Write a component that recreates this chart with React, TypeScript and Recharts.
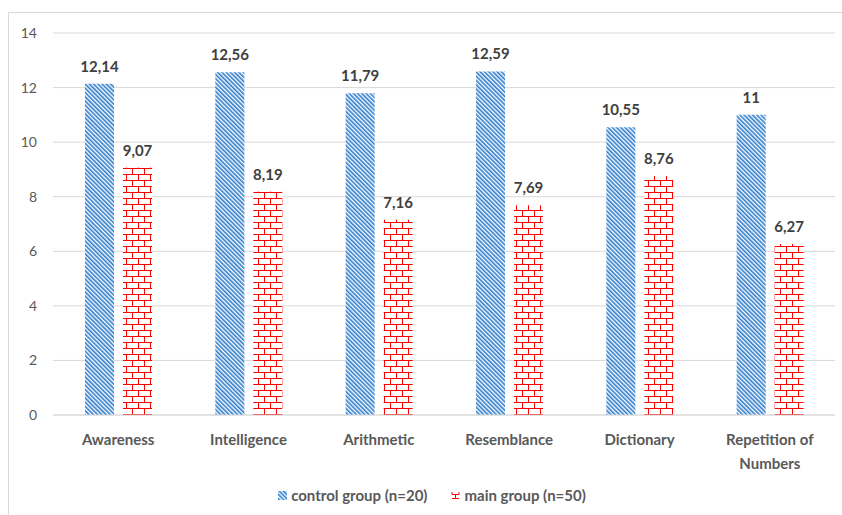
import { BarChart, Bar, XAxis, YAxis, CartesianGrid, Legend, LabelList, Text } from 'recharts';

const categories = ['Awareness', 'Intelligence', 'Arithmetic', 'Resemblance', 'Dictionary', 'Repetition of Numbers'];
const controlGroup = [12.14, 12.56, 11.79, 12.59, 10.55, 11];
const mainGroup = [9.07, 8.19, 7.16, 7.69, 8.76, 6.27];
const yTicks = [0, 2, 4, 6, 8, 10, 12, 14];

const seriesNames = ['control group (n=20)', 'main group (n=50)'];

const data = categories.map((name, i) => ({
  name,
  control: controlGroup[i],
  main: mainGroup[i],
}));

const FONT = 'Lato, "Open Sans", sans-serif';
const GRAY = '#595959';

// numbers use a decimal comma
const fmt = (v: any) => String(v).replace('.', ',');

const XTick = ({ x, y, payload }: any) => (
  <Text
    x={x}
    y={y}
    width={110}
    textAnchor="middle"
    verticalAnchor="start"
    lineHeight={24}
    fill={GRAY}
    fontSize={15}
    fontWeight={700}
    fontFamily={FONT}
    style={{ fontSize: 15, fontWeight: 700, fontFamily: FONT }}
  >
    {payload.value}
  </Text>
);

const LegendContent = () => (
  <div
    style={{
      display: 'flex',
      justifyContent: 'center',
      alignItems: 'center',
      gap: 24,
      fontFamily: FONT,
      fontSize: 15,
      fontWeight: 700,
      color: GRAY,
      paddingLeft: 22,
    }}
  >
    <span style={{ display: 'flex', alignItems: 'center' }}>
      <svg width={9} height={9} style={{ marginRight: 4 }}>
        <rect width={9} height={9} fill="url(#hatchBlue)" />
      </svg>
      {seriesNames[0]}
    </span>
    <span style={{ display: 'flex', alignItems: 'center' }}>
      <svg width={9} height={9} style={{ marginRight: 4 }}>
        <rect width={9} height={9} fill="url(#brickRedSmall)" />
      </svg>
      {seriesNames[1]}
    </span>
  </div>
);

export default function App() {
  return (
    <div style={{ position: 'absolute', left: 0, top: 0, width: 842, height: 515, overflow: 'hidden', background: '#fff' }}>
      <div
        style={{
          position: 'absolute',
          left: 8,
          top: 12,
          width: 900,
          height: 600,
          border: '1px solid #d9d9d9',
        }}
      />
      <div style={{ position: 'absolute', left: 0, top: 0 }}>
        <BarChart
          width={842}
          height={515}
          data={data}
          margin={{ top: 33, right: 7, left: 0, bottom: 50 }}
          barSize={29}
          barGap={9}
        >
          <defs>
            <pattern id="hatchBlue" width={3} height={3} patternUnits="userSpaceOnUse" patternTransform="rotate(-45)">
              <rect width={3} height={3} fill="#fff" />
              <rect width={1.6} height={3} fill="#2E7BCB" />
            </pattern>
            <pattern id="brickRed" width={12} height={12} patternUnits="userSpaceOnUse">
              <rect width={12} height={12} fill="#fff" />
              <path d="M0,0.5 H12 M0,6.5 H12 M0.5,0 V6 M6.5,6 V12" stroke="#FF0000" strokeWidth={1} />
            </pattern>
            <pattern id="brickRedSmall" width={9} height={9} patternUnits="userSpaceOnUse">
              <rect width={9} height={9} fill="#fff" />
              <path d="M1,3.5 H8 M4.5,3.5 V7 M1,7.5 H8 M1,1 V3.5 M8,1 V3.5" stroke="#FF0000" strokeWidth={1} />
            </pattern>
          </defs>
          <CartesianGrid vertical={false} stroke="#d9d9d9" />
          <XAxis
            dataKey="name"
            axisLine={{ stroke: '#d9d9d9' }}
            tickLine={false}
            tickSize={0}
            tickMargin={19}
            height={50}
            interval={0}
            tick={<XTick />}
          />
          <YAxis
            domain={[0, 14]}
            ticks={yTicks}
            width={53}
            axisLine={false}
            tickLine={false}
            tickSize={0}
            tickMargin={16}
            tick={{ fill: GRAY, fontSize: 14, fontFamily: FONT }}
          />
          <Legend
            layout="horizontal"
            verticalAlign="middle"
            align="center"
            wrapperStyle={{ top: 486, left: 0, width: 842 }}
            content={<LegendContent />}
          />
          <Bar dataKey="control" name={seriesNames[0]} fill="url(#hatchBlue)" isAnimationActive={false}>
            <LabelList
              dataKey="control"
              position="top"
              offset={12}
              formatter={fmt}
              fill="#404040"
              fontSize={15}
              fontWeight={700}
              fontFamily={FONT}
            />
          </Bar>
          <Bar dataKey="main" name={seriesNames[1]} fill="url(#brickRed)" isAnimationActive={false}>
            <LabelList
              dataKey="main"
              position="top"
              offset={12}
              formatter={fmt}
              fill="#404040"
              fontSize={15}
              fontWeight={700}
              fontFamily={FONT}
            />
          </Bar>
        </BarChart>
      </div>
    </div>
  );
}
